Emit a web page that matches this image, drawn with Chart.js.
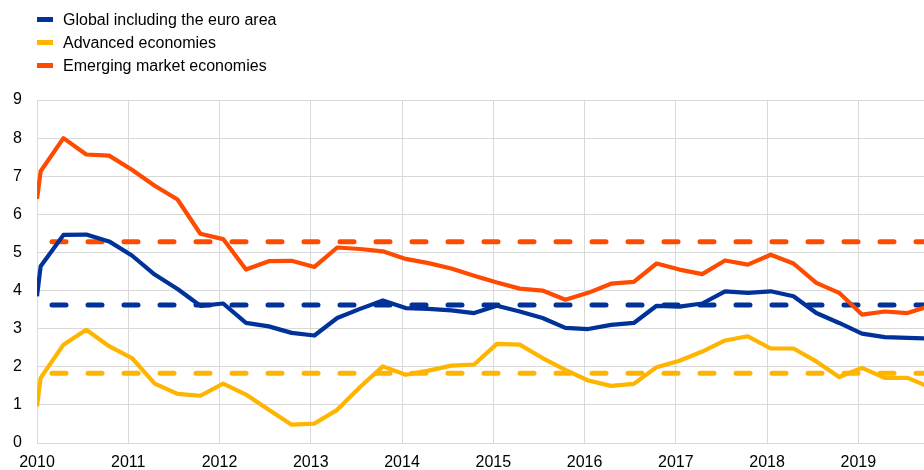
<!DOCTYPE html>
<html>
<head>
<meta charset="utf-8">
<script src="https://cdn.jsdelivr.net/npm/chart.js@4/dist/chart.umd.min.js"></script>
<style>
    body { margin: 0; background: #fff; }
    #wrap { position: relative; width: 924px; height: 470px; }
    #legend { position: absolute; left: 37px; top: 8px; font: 16px "Liberation Sans", Arial, sans-serif; color: #000; }
    .item { height: 23px; line-height: 23px; white-space: nowrap; }
    .box { display: inline-block; width: 16px; height: 5px; vertical-align: middle; margin-right: 10px; position: relative; top: -1px; }
</style>
</head>
<body>
<div id="wrap">
    <canvas id="growthChart" width="924" height="470"></canvas>
    <div id="legend"></div>
</div>
<script>
// time axis in years, quarterly points
const periods = [2010.00, 2010.04, 2010.29, 2010.54, 2010.79, 2011.04, 2011.29, 2011.54, 2011.79,
    2012.04, 2012.29, 2012.54, 2012.79, 2013.04, 2013.29, 2013.54, 2013.79, 2014.04, 2014.29, 2014.54,
    2014.79, 2015.04, 2015.29, 2015.54, 2015.79, 2016.04, 2016.29, 2016.54, 2016.79, 2017.04, 2017.29,
    2017.54, 2017.79, 2018.04, 2018.29, 2018.54, 2018.79, 2019.04, 2019.29, 2019.54, 2019.79];

const seriesNames = ['Global including the euro area', 'Advanced economies', 'Emerging market economies'];
const seriesColors = ['#003299', '#ffb400', '#ff4b00'];

const globalGrowth = [3.85, 4.64, 5.46, 5.47, 5.29, 4.92, 4.42, 4.04, 3.60, 3.66, 3.15, 3.06, 2.89, 2.82,
    3.28, 3.52, 3.74, 3.54, 3.52, 3.48, 3.41, 3.60, 3.45, 3.28, 3.02, 2.99, 3.10, 3.15, 3.60, 3.58, 3.66,
    3.98, 3.94, 3.98, 3.85, 3.41, 3.15, 2.87, 2.78, 2.76, 2.74];
const advancedGrowth = [0.96, 1.71, 2.58, 2.97, 2.54, 2.23, 1.56, 1.29, 1.24, 1.56, 1.27, 0.87, 0.48, 0.51,
    0.87, 1.47, 2.01, 1.79, 1.90, 2.03, 2.06, 2.60, 2.58, 2.23, 1.92, 1.64, 1.50, 1.55, 1.99, 2.16, 2.40,
    2.69, 2.80, 2.48, 2.48, 2.14, 1.73, 1.97, 1.71, 1.71, 1.46];
const emergingGrowth = [6.40, 7.13, 8.00, 7.57, 7.54, 7.17, 6.75, 6.39, 5.49, 5.35, 4.55, 4.77, 4.78, 4.62,
    5.13, 5.09, 5.03, 4.83, 4.72, 4.58, 4.39, 4.21, 4.05, 4.00, 3.76, 3.94, 4.18, 4.23, 4.71, 4.55, 4.43,
    4.79, 4.68, 4.94, 4.71, 4.20, 3.94, 3.37, 3.45, 3.41, 3.60];

// long-run averages (dashed lines)
const averages = [3.62, 1.83, 5.28];

const yTicks = [0, 1, 2, 3, 4, 5, 6, 7, 8, 9];
const yearTicks = [2010, 2011, 2012, 2013, 2014, 2015, 2016, 2017, 2018, 2019];

const font = { family: '"Liberation Sans", Arial, sans-serif', size: 16 };
const gridColor = '#d9d9d9';

function toPoints(values) {
    return values.map((v, i) => ({ x: periods[i], y: v }));
}

const allSeries = [globalGrowth, advancedGrowth, emergingGrowth];

const datasets = [];
allSeries.forEach((values, i) => {
    datasets.push({
        label: seriesNames[i],
        data: toPoints(values),
        borderColor: seriesColors[i],
        borderWidth: 4.2,
        borderJoinStyle: 'round',
        pointRadius: 0,
        tension: 0
    });
});
averages.forEach((avg, i) => {
    datasets.push({
        label: seriesNames[i] + ' average',
        data: [{ x: periods[0], y: avg }, { x: periods[periods.length - 1], y: avg }],
        borderColor: seriesColors[i],
        borderWidth: 5,
        borderDash: [14, 22],
        borderDashOffset: 21,
        borderCapStyle: 'round',
        pointRadius: 0
    });
});

// simple html legend, solid series only
const legend = document.getElementById('legend');
seriesNames.forEach((name, i) => {
    const row = document.createElement('div');
    row.className = 'item';
    row.innerHTML = '<span class="box" style="background:' + seriesColors[i] + '"></span>' + name;
    legend.appendChild(row);
});

const ctx = document.getElementById('growthChart').getContext('2d');
const growthChart = new Chart(ctx, {
    type: 'line',
    data: { datasets: datasets },
    options: {
        responsive: false,
        animation: false,
        devicePixelRatio: 1,
        layout: { padding: { top: 100, right: 0, left: 0, bottom: 0 } },
        plugins: {
            legend: { display: false },
            tooltip: { enabled: false }
        },
        scales: {
            x: {
                type: 'linear',
                min: yearTicks[0],
                max: 2019.72,
                afterBuildTicks: (scale) => { scale.ticks = yearTicks.map(v => ({ value: v })); },
                afterFit: (scale) => { scale.height = 27; },
                grid: { color: gridColor, drawTicks: false },
                border: { color: gridColor },
                ticks: {
                    font: font,
                    color: '#000',
                    padding: 10,
                    maxRotation: 0,
                    callback: (v) => String(v)
                }
            },
            y: {
                min: yTicks[0],
                max: yTicks[yTicks.length - 1],
                afterBuildTicks: (scale) => { scale.ticks = yTicks.map(v => ({ value: v })); },
                afterFit: (scale) => { scale.width = 37; },
                grid: { color: gridColor, drawTicks: false },
                border: { color: gridColor },
                ticks: {
                    font: font,
                    color: '#000',
                    padding: 15
                }
            }
        }
    }
});
</script>
</body>
</html>
